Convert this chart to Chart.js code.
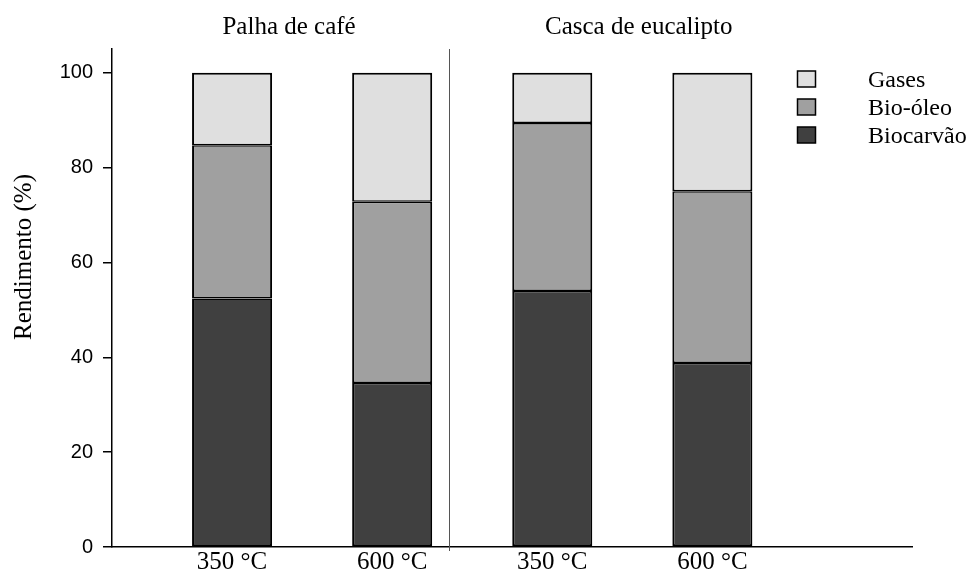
<!DOCTYPE html>
<html>
<head>
<meta charset="utf-8">
<script src="https://cdn.jsdelivr.net/npm/chart.js@4/dist/chart.umd.min.js"></script>
<style>
  html, body { margin: 0; padding: 0; background: #ffffff; }
  #wrap { width: 971px; height: 571px; }
</style>
</head>
<body>
<div id="wrap"><canvas id="c" width="971" height="571"></canvas></div>
<script>
// Yield fractions (%) of pyrolysis products, per feedstock and temperature
const tempLabels = ['350 °C', '600 °C', '350 °C', '600 °C'];
const groupTitles = ['Palha de café', 'Casca de eucalipto'];
const biocarvao = [52.4, 34.6, 54.0, 38.8];
const bioOleo   = [32.3, 38.2, 35.4, 36.2];
const gases     = [15.3, 27.2, 10.6, 25.0];
const yTicks    = [0, 20, 40, 60, 80, 100];

const positions = tempLabels.map((_, i) => i + 1);
const toPoints = arr => arr.map((v, i) => ({ x: positions[i], y: v }));

const SERIF = '"Liberation Serif", "Times New Roman", serif';
const SANS = '"Liberation Sans", Arial, sans-serif';

// inner segment edges are thinner so that touching segments form one dark line
const datasets = [
  { label: 'Biocarvão', data: toPoints(biocarvao), backgroundColor: '#404040',
    borderWidth: { top: 1.5, bottom: 2, left: 2, right: 2 } },
  { label: 'Bio-óleo',  data: toPoints(bioOleo),   backgroundColor: '#a0a0a0',
    borderWidth: { top: 1.5, bottom: 1.5, left: 2, right: 2 } },
  { label: 'Gases',     data: toPoints(gases),     backgroundColor: '#dfdfdf',
    borderWidth: { top: 2, bottom: 1.5, left: 2, right: 2 } }
].map(d => Object.assign(d, {
  borderColor: '#000000',
  borderSkipped: false,
  barPercentage: 0.5,
  categoryPercentage: 1.0
}));

// Separator, group headings, y-axis title and legend
const decorations = {
  id: 'decorations',
  afterDraw(chart) {
    const { ctx, chartArea, scales } = chart;
    const xs = scales.x;
    ctx.save();

    // vertical separator between the two feedstocks
    const sx = Math.round(xs.getPixelForValue(2.353)) + 0.5;
    ctx.strokeStyle = '#555555';
    ctx.lineWidth = 1;
    ctx.beginPath();
    ctx.moveTo(sx, chartArea.top);
    ctx.lineTo(sx, chartArea.bottom + 4);
    ctx.stroke();

    // group headings
    ctx.fillStyle = '#000000';
    ctx.font = '25px ' + SERIF;
    ctx.textAlign = 'center';
    ctx.textBaseline = 'alphabetic';
    ctx.fillText(groupTitles[0], xs.getPixelForValue(1.356), 34);
    ctx.fillText(groupTitles[1], xs.getPixelForValue(3.54), 34);

    // y-axis title
    ctx.save();
    ctx.translate(24, 257);
    ctx.rotate(-Math.PI / 2);
    ctx.textBaseline = 'middle';
    ctx.fillText('Rendimento (%)', 0, 0);
    ctx.restore();

    // legend, top series first
    const order = [2, 1, 0];
    order.forEach((di, k) => {
      const ds = chart.data.datasets[di];
      const base = 87 + k * 28;
      ctx.fillStyle = ds.backgroundColor;
      ctx.fillRect(797.5, base - 16, 18, 16);
      ctx.strokeStyle = '#000000';
      ctx.lineWidth = 1.5;
      ctx.strokeRect(797.5, base - 16, 18, 16);
      ctx.fillStyle = '#000000';
      ctx.font = '24px ' + SERIF;
      ctx.textAlign = 'left';
      ctx.textBaseline = 'alphabetic';
      ctx.fillText(ds.label, 868, base);
    });
    ctx.restore();
  }
};

new Chart(document.getElementById('c'), {
  type: 'bar',
  data: { datasets },
  options: {
    responsive: false,
    animation: false,
    devicePixelRatio: 1,
    layout: { padding: { top: 49, right: 59, left: 0, bottom: 0 } },
    plugins: { legend: { display: false }, tooltip: { enabled: false } },
    scales: {
      x: {
        type: 'linear',
        stacked: true,
        offset: false,
        min: 0.25,
        max: 5.247,
        afterBuildTicks: s => { s.ticks = positions.map(v => ({ value: v })); },
        afterFit: s => { s.height = 24; },
        ticks: {
          autoSkip: false,
          maxRotation: 0,
          padding: 0,
          color: '#000000',
          font: { family: SERIF, size: 25 },
          callback: v => tempLabels[positions.indexOf(v)] ?? ''
        },
        grid: { offset: false, drawOnChartArea: false, drawTicks: false },
        border: { display: true, color: '#000000', width: 1.5 }
      },
      y: {
        stacked: true,
        min: 0,
        max: 105,
        afterBuildTicks: s => { s.ticks = yTicks.map(v => ({ value: v })); },
        afterFit: s => { s.width = 112; },
        ticks: {
          padding: 10,
          color: '#000000',
          font: { family: SANS, size: 20 }
        },
        grid: { drawOnChartArea: false, drawTicks: true, tickLength: 9, color: '#000000', lineWidth: 1.5 },
        border: { display: true, color: '#000000', width: 1.5 }
      }
    }
  },
  plugins: [decorations]
});
</script>
</body>
</html>
